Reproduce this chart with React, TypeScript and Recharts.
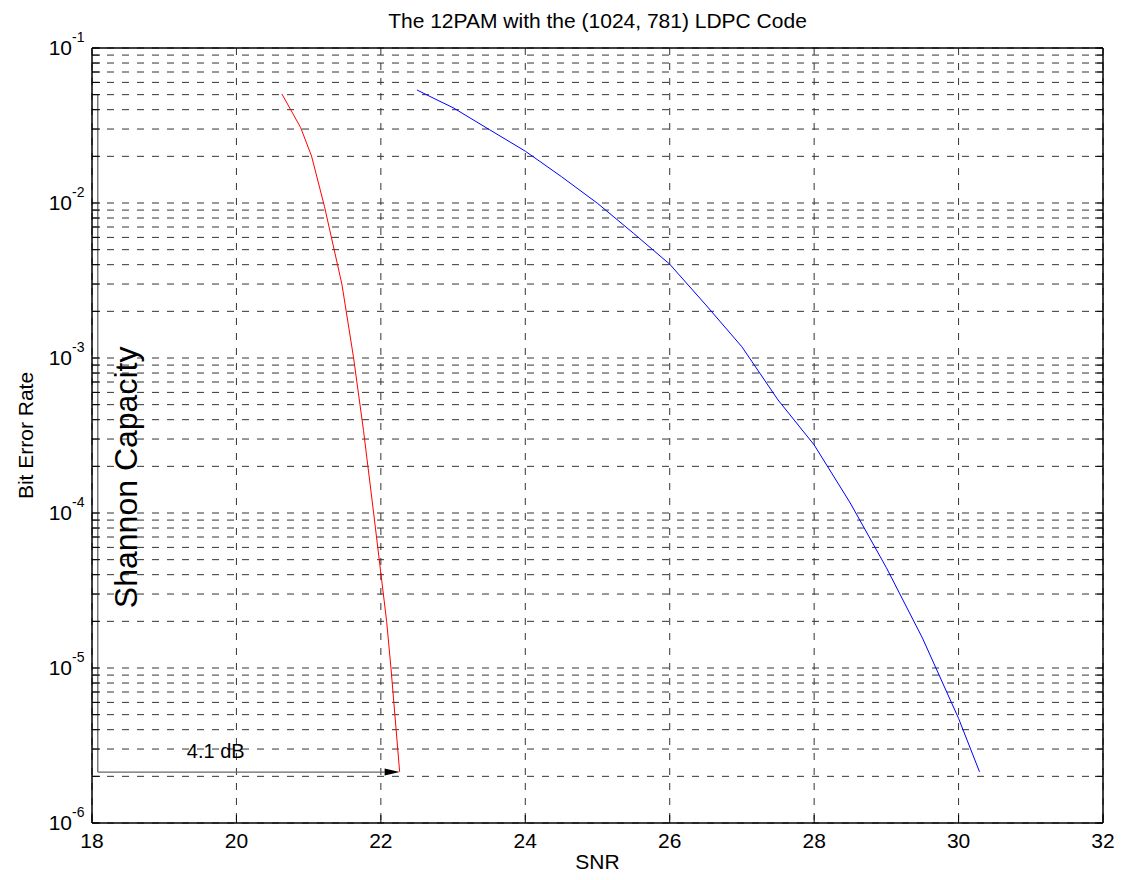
import React from 'react';
import { LineChart, Line, XAxis, YAxis, CartesianGrid, ReferenceLine, Label } from 'recharts';

const FONT = '"Liberation Sans", Arial, Helvetica, sans-serif';

const TITLE = 'The 12PAM with the (1024, 781) LDPC Code';
const X_LABEL = 'SNR';
const Y_LABEL = 'Bit Error Rate';
const SHANNON_TEXT = 'Shannon Capacity';
const GAP_TEXT = '4.1 dB';

const X_TICKS = [18, 20, 22, 24, 26, 28, 30, 32];
const Y_MAJOR = [1e-6, 1e-5, 1e-4, 1e-3, 1e-2, 1e-1];
const Y_EXPONENTS = ['-6', '-5', '-4', '-3', '-2', '-1'];
const MINOR_MULT = [2, 3, 4, 5, 6, 7, 8, 9];
const Y_TICKS: number[] = [];
Y_MAJOR.forEach((d, i) => {
  Y_TICKS.push(d);
  if (i < Y_MAJOR.length - 1) MINOR_MULT.forEach((m) => Y_TICKS.push(parseFloat((m * d).toPrecision(3))));
});

// Shannon-limit (red) curve
const redSNR = [20.63, 20.89, 21.04, 21.22, 21.46, 21.62, 21.76, 21.9, 22.08, 22.14, 22.26];
const redBER = [0.0505, 0.0306, 0.0201, 0.00946, 0.003, 0.00102, 3.4e-4, 1.0e-4, 2.0e-5, 1.0e-5, 2.14e-6];

// LDPC (blue) curve
const blueSNR = [22.5, 22.75, 23, 23.5, 24, 24.5, 25, 25.5, 26, 26.5, 27, 27.5, 28, 28.5, 29, 29.5, 30, 30.29];
const blueBER = [0.0536, 0.0469, 0.0412, 0.0298, 0.0216, 0.0148, 0.00995, 0.00637, 0.00403, 0.0022, 0.00118, 5.36e-4, 2.75e-4, 1.16e-4, 4.44e-5, 1.56e-5, 4.73e-6, 2.14e-6];

// annotation bracket: vertical line x, its top/bottom BER, arrow tip SNR
const ANN_X = 18.08;
const ANN_TOP = 0.05;
const ANN_BOTTOM = 2.13e-6;
const ANN_TIP = 22.26;

const redData = redSNR.map((x, i) => ({ snr: x, ber: redBER[i] }));
const blueData = blueSNR.map((x, i) => ({ snr: x, ber: blueBER[i] }));

const TICK_LEN = 8;

const LeftTick = (props: any) => {
  const { x, y, payload } = props;
  const idx = Y_MAJOR.findIndex((m) => Math.abs(m - payload.value) / m < 1e-6);
  return (
    <g>
      <line x1={x} x2={x + TICK_LEN} y1={y} y2={y} stroke="#000" strokeWidth={1} />
      {idx >= 0 && (
        <g fontFamily={FONT} fill="#000">
          <text x={x - 20} y={y + 7} textAnchor="end" fontSize={21}>10</text>
          <text x={x - 20} y={y - 6} textAnchor="start" fontSize={14}>{Y_EXPONENTS[idx]}</text>
        </g>
      )}
    </g>
  );
};

const RightTick = (props: any) => {
  const { x, y } = props;
  return <line x1={x} x2={x - TICK_LEN} y1={y} y2={y} stroke="#000" strokeWidth={1} />;
};

const BottomTick = (props: any) => {
  const { x, y, payload } = props;
  return (
    <g>
      <line x1={x} x2={x} y1={y} y2={y - TICK_LEN} stroke="#000" strokeWidth={1} />
      <text x={x} y={y + 25} textAnchor="middle" fontSize={21} fontFamily={FONT} fill="#000">
        {payload.value}
      </text>
    </g>
  );
};

const TopTick = (props: any) => {
  const { x, y } = props;
  return <line x1={x} x2={x} y1={y} y2={y + TICK_LEN} stroke="#000" strokeWidth={1} />;
};

const VerticalBracket = (props: any) => {
  const { x1, y1, x2, y2 } = props;
  const top = Math.min(y1, y2);
  const bottom = Math.max(y1, y2);
  const cy = (top + bottom) / 2 + 44;
  const tx = x1 + 28;
  return (
    <g>
      <line x1={x1} x2={x2} y1={y1} y2={y2} stroke="#666" strokeWidth={1.3} />
      <text
        x={tx}
        y={cy}
        transform={`rotate(-90, ${tx}, ${cy})`}
        textAnchor="middle"
        dominantBaseline="central"
        fontSize={32}
        fontFamily={FONT}
        fill="#000"
      >
        {SHANNON_TEXT}
      </text>
    </g>
  );
};

const ArrowLine = (props: any) => {
  const { x1, y1, x2, y2 } = props;
  const headLen = 15;
  return (
    <g>
      <line x1={x1} x2={x2 - headLen} y1={y1} y2={y2} stroke="#666" strokeWidth={1.3} />
      <polygon points={`${x2},${y2} ${x2 - headLen},${y2 - 3.5} ${x2 - headLen},${y2 + 3.5}`} fill="#000" />
      <text x={x1 + 118} y={y1 - 14} textAnchor="middle" fontSize={20} fontFamily={FONT} fill="#000">
        {GAP_TEXT}
      </text>
    </g>
  );
};

export default function App() {
  return (
    <div style={{ position: 'absolute', left: 0, top: 0, width: 1121, height: 880, background: '#fff' }}>
      <LineChart width={1121} height={880} margin={{ top: 0, right: 0, bottom: 0, left: 0 }}>
        <CartesianGrid
          stroke="#333"
          strokeWidth={1}
          strokeDasharray="7 8"
          xAxisId="bottom"
          yAxisId="left"
        />
        <XAxis
          xAxisId="bottom"
          dataKey="snr"
          type="number"
          domain={[18, 32]}
          ticks={X_TICKS}
          interval={0}
          height={57}
          orientation="bottom"
          tickSize={0}
          tickMargin={0}
          tickLine={false}
          axisLine={{ stroke: '#000', strokeWidth: 1.5 }}
          tick={<BottomTick />}
          allowDataOverflow
        >
          <Label
            content={(p: any) => {
              const vb = p.viewBox;
              return (
                <text x={vb.x + vb.width / 2} y={vb.y + 46} textAnchor="middle" fontSize={21} fontFamily={FONT} fill="#000">
                  {X_LABEL}
                </text>
              );
            }}
          />
        </XAxis>
        <XAxis
          xAxisId="top"
          type="number"
          domain={[18, 32]}
          ticks={X_TICKS}
          interval={0}
          height={48}
          orientation="top"
          tickSize={0}
          tickMargin={0}
          tickLine={false}
          axisLine={{ stroke: '#000', strokeWidth: 1.5 }}
          tick={<TopTick />}
          allowDataOverflow
        >
          <Label
            content={(p: any) => {
              const vb = p.viewBox;
              return (
                <text x={vb.x + vb.width / 2} y={28} textAnchor="middle" fontSize={21} fontFamily={FONT} fill="#000">
                  {TITLE}
                </text>
              );
            }}
          />
        </XAxis>
        <YAxis
          yAxisId="left"
          dataKey="ber"
          type="number"
          scale="log"
          domain={[1e-6, 1e-1]}
          ticks={Y_TICKS}
          interval={0}
          width={92}
          orientation="left"
          tickSize={0}
          tickMargin={0}
          tickLine={false}
          axisLine={{ stroke: '#000', strokeWidth: 1.5 }}
          tick={<LeftTick />}
          allowDataOverflow
        >
          <Label
            content={(p: any) => {
              const vb = p.viewBox;
              const cx = 25;
              const cy = vb.y + vb.height / 2;
              return (
                <text
                  x={cx}
                  y={cy}
                  transform={`rotate(-90, ${cx}, ${cy})`}
                  textAnchor="middle"
                  dominantBaseline="central"
                  fontSize={21}
                  fontFamily={FONT}
                  fill="#000"
                >
                  {Y_LABEL}
                </text>
              );
            }}
          />
        </YAxis>
        <YAxis
          yAxisId="right"
          type="number"
          scale="log"
          domain={[1e-6, 1e-1]}
          ticks={Y_TICKS}
          interval={0}
          width={18}
          orientation="right"
          tickSize={0}
          tickMargin={0}
          tickLine={false}
          axisLine={{ stroke: '#000', strokeWidth: 1.5 }}
          tick={<RightTick />}
          allowDataOverflow
        />
        <ReferenceLine
          xAxisId="bottom"
          yAxisId="left"
          segment={[{ x: ANN_X, y: ANN_TOP }, { x: ANN_X, y: ANN_BOTTOM }]}
          shape={<VerticalBracket />}
          ifOverflow="visible"
        />
        <ReferenceLine
          xAxisId="bottom"
          yAxisId="left"
          segment={[{ x: ANN_X, y: ANN_BOTTOM }, { x: ANN_TIP, y: ANN_BOTTOM }]}
          shape={<ArrowLine />}
          ifOverflow="visible"
        />
        <Line
          xAxisId="bottom"
          yAxisId="left"
          data={redData}
          dataKey="ber"
          stroke="#ff0000"
          strokeWidth={1}
          dot={false}
          isAnimationActive={false}
          type="linear"
        />
        <Line
          xAxisId="bottom"
          yAxisId="left"
          data={blueData}
          dataKey="ber"
          stroke="#0000ff"
          strokeWidth={1}
          dot={false}
          isAnimationActive={false}
          type="linear"
        />
      </LineChart>
    </div>
  );
}
